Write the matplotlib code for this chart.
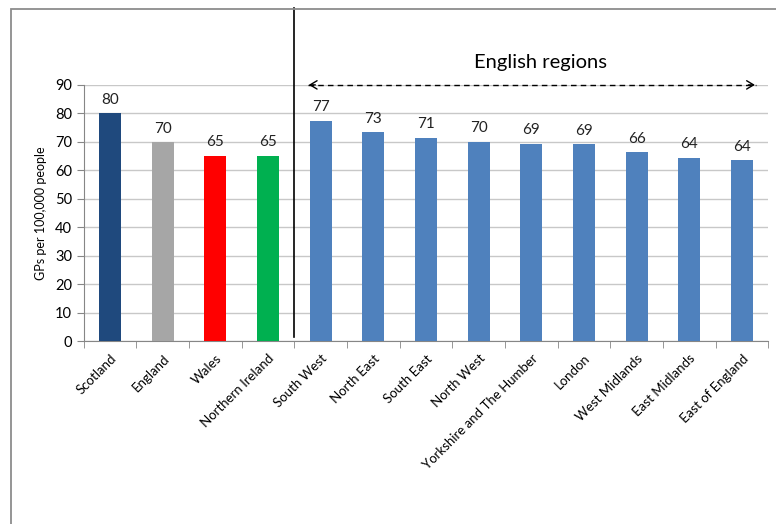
import matplotlib.pyplot as plt
from matplotlib.patches import Rectangle

regions = ['Scotland', 'England', 'Wales', 'Northern Ireland', 'South West',
           'North East', 'South East', 'North West', 'Yorkshire and The Humber',
           'London', 'West Midlands', 'East Midlands', 'East of England']
gps = [80.1, 69.9, 65.1, 65.1, 77.3, 73.3, 71.4, 70.0, 69.3, 69.1, 66.3, 64.4, 63.6]
colors = ['#1F497D', '#A6A6A6', '#FF0000', '#00B050'] + ['#4F81BD'] * 9

plt.rcParams['font.family'] = ['Lato', 'DejaVu Sans']

fig = plt.figure(figsize=(7.76, 5.24), dpi=100)
ax = fig.add_axes([0.108, 0.349, 0.882, 0.489])

x = range(len(regions))
ax.bar(x, gps, width=0.42, color=colors, zorder=3)
for i, v in enumerate(gps):
    ax.text(i, v + 2.3, '%d' % round(v), ha='center', va='bottom', fontsize=11, color='#222222')

ax.set_xlim(-0.5, len(regions) - 0.5)
ax.set_ylim(0, 90)
ax.set_yticks(range(0, 91, 10))
ax.yaxis.grid(True, color='#C8C8C8', linewidth=1, zorder=0)
ax.set_xticks(list(x))
ax.set_xticklabels(regions, rotation=45, ha='right', va='top', rotation_mode='anchor', fontsize=9.5)
ax.set_xticks([i - 0.5 for i in range(len(regions) + 1)], minor=True)
ax.tick_params(axis='x', which='major', length=0, pad=8)
ax.tick_params(axis='x', which='minor', length=5, color='#868686')
ax.tick_params(axis='y', length=5, color='#868686', labelsize=10.5)
for s in ['top', 'right']:
    ax.spines[s].set_visible(False)
for s in ['left', 'bottom']:
    ax.spines[s].set_color('#868686')
ax.set_ylabel('GPs per 100,000 people', fontsize=9, labelpad=6)

# divider between nations and English regions
ax.plot([3.5, 3.5], [1.4, 117], color='black', linewidth=1.2, clip_on=False, zorder=4)

# English regions arrow
ax.plot([3.75, 12.27], [90, 90], color='black', linestyle=(0, (4, 3)), linewidth=1, clip_on=False, zorder=4)
for a, b in [(3.95, 3.72), (12.07, 12.3)]:
    ax.annotate('', xy=(b, 90), xytext=(a, 90), annotation_clip=False,
                arrowprops=dict(arrowstyle='->,head_length=0.5,head_width=0.3', color='black', lw=1))
ax.text(8.17, 97.7, 'English regions', ha='center', va='center', fontsize=14.5, clip_on=False)

fig.patches.append(Rectangle((0.0142, -0.1), 1.2, 1.083, transform=fig.transFigure,
                             fill=False, edgecolor='#8C8C8C', linewidth=1.3))

fig.savefig('out.png', dpi=100)
